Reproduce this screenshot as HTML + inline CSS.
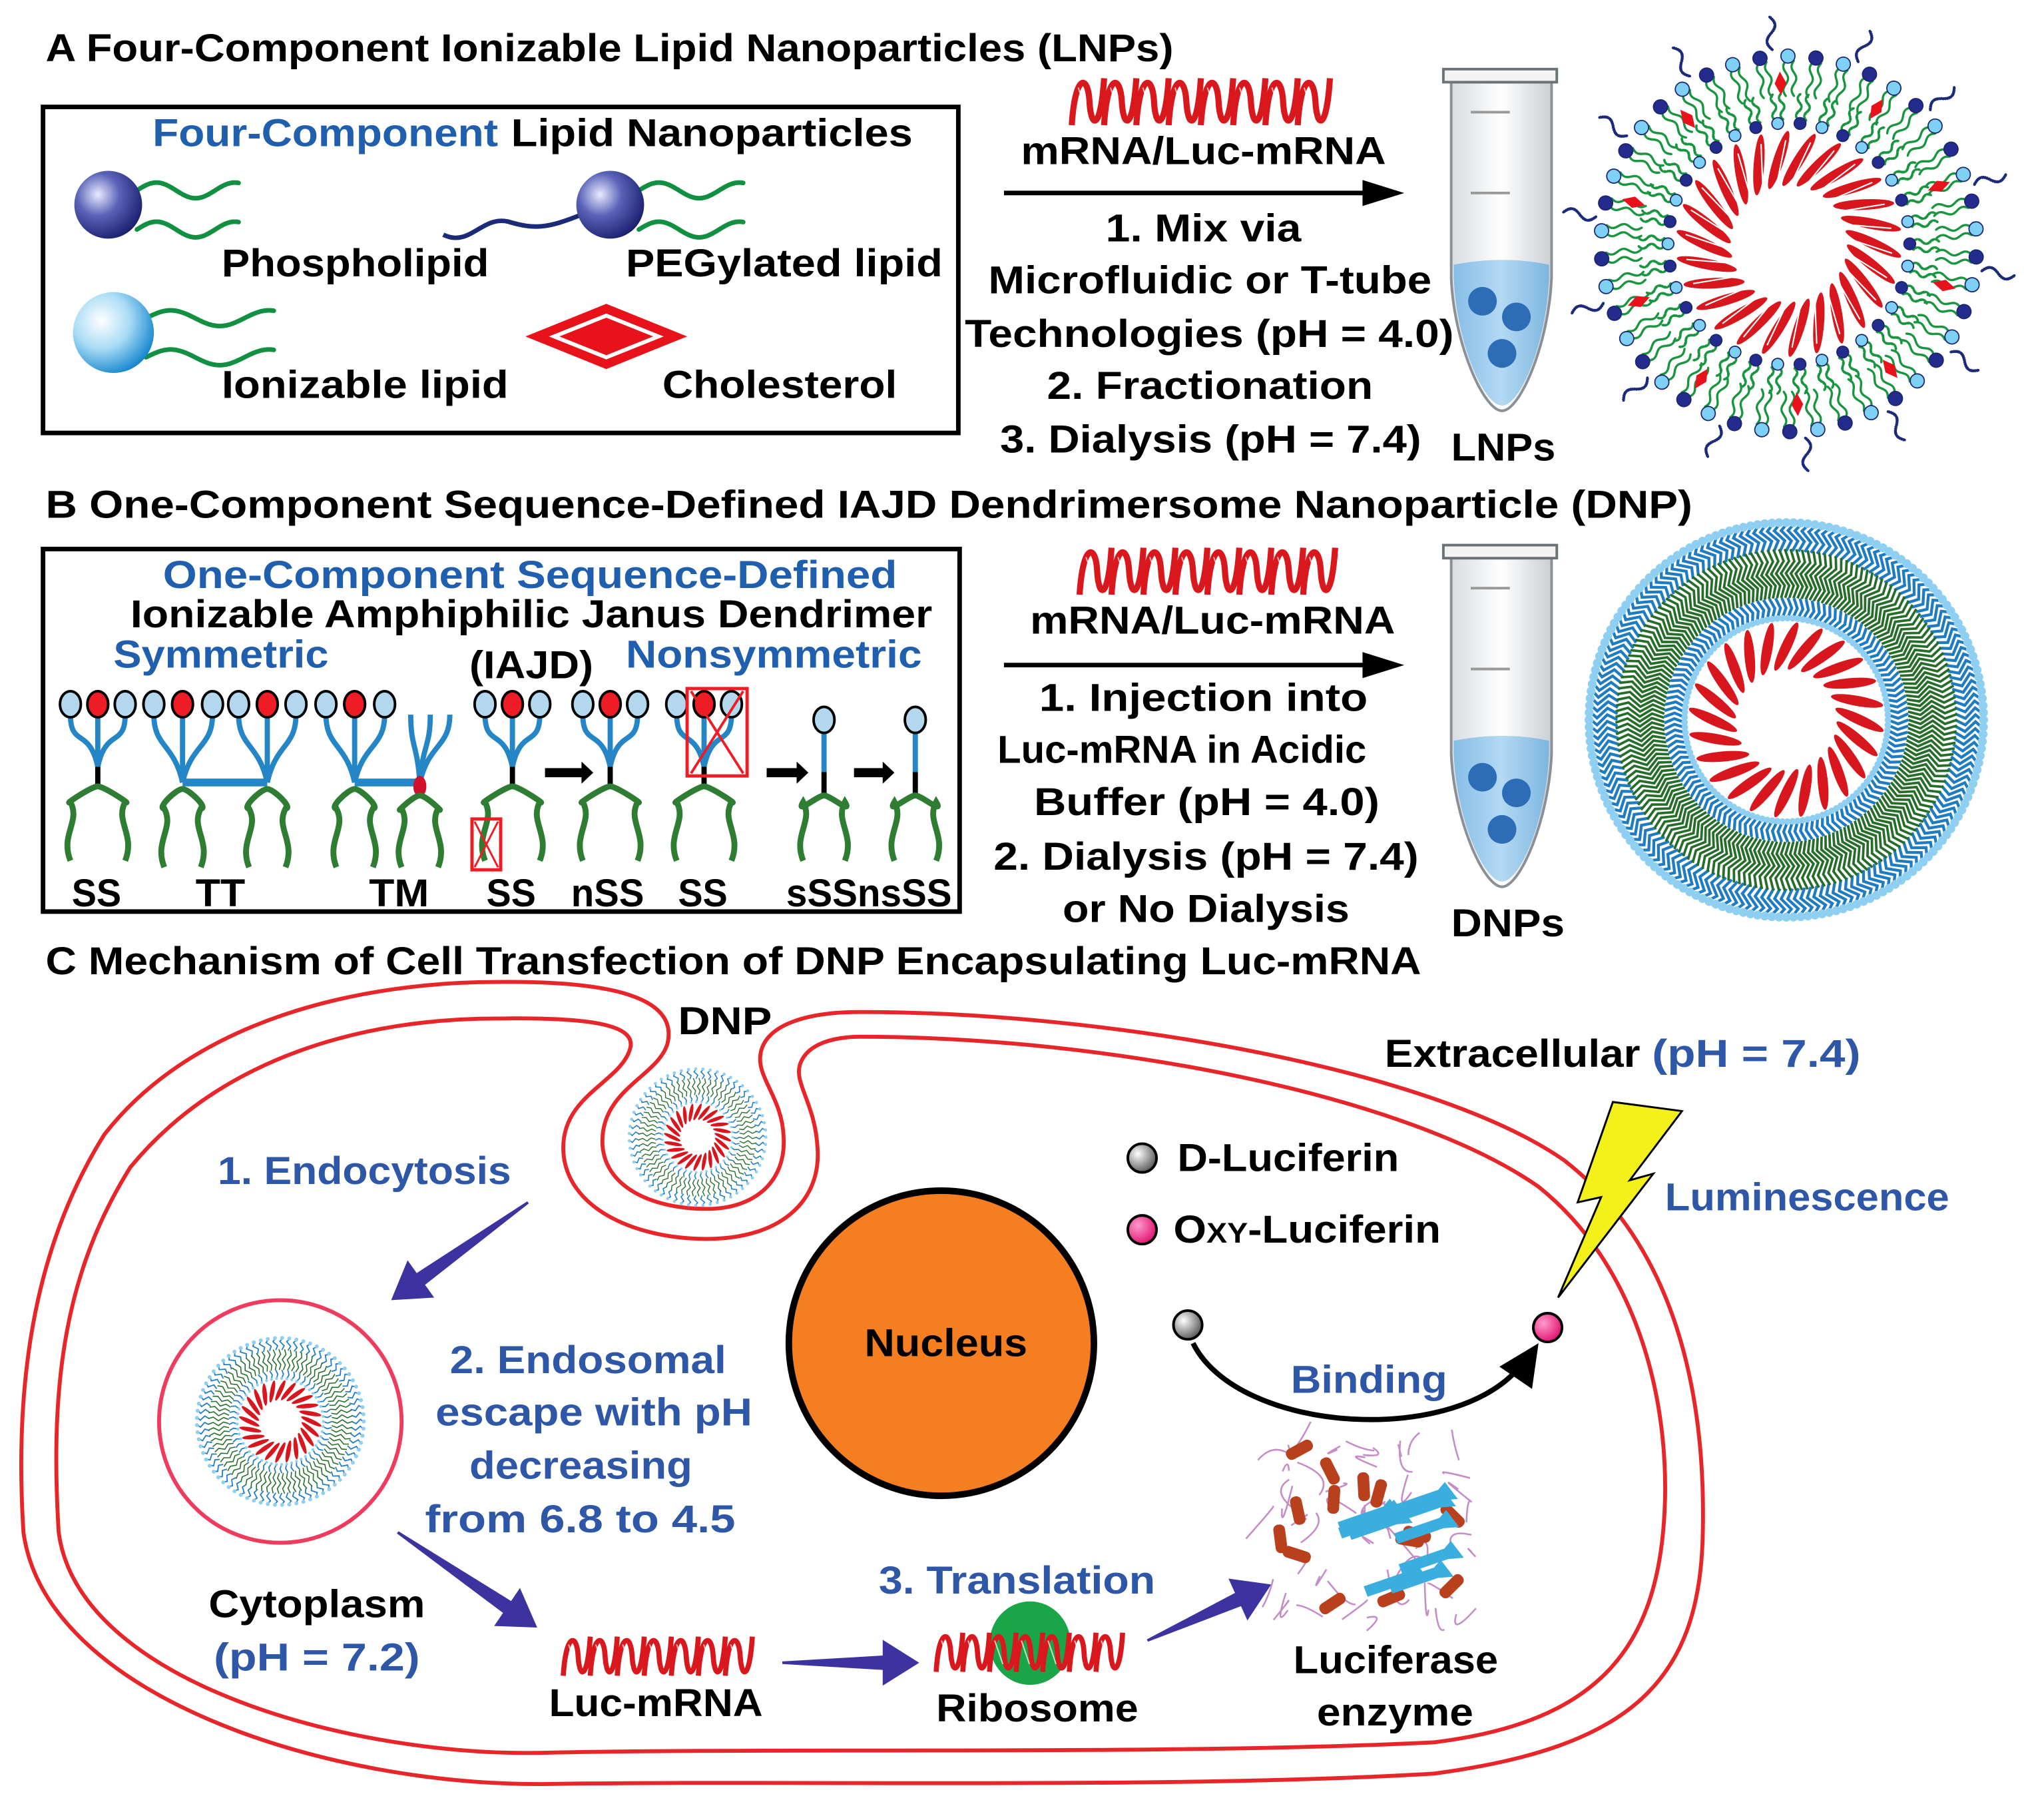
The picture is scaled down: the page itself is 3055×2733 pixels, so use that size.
<!DOCTYPE html>
<html><head><meta charset="utf-8"><style>
html,body{margin:0;padding:0;background:#fff;}
svg{display:block;}
text{font-family:"Liberation Sans",sans-serif;font-weight:bold;}
</style></head><body>
<svg id="s" xmlns="http://www.w3.org/2000/svg" width="3055" height="2733" viewBox="0 0 1560 1395.6" preserveAspectRatio="none">
<defs>
<radialGradient id="navy" cx="0.35" cy="0.35" r="0.7"><stop offset="0" stop-color="#e8ecff"/><stop offset="0.45" stop-color="#5a63b8"/><stop offset="1" stop-color="#1c1f6e"/></radialGradient>
<radialGradient id="lb" cx="0.35" cy="0.35" r="0.7"><stop offset="0" stop-color="#ffffff"/><stop offset="0.5" stop-color="#a9dcf5"/><stop offset="1" stop-color="#1687cf"/></radialGradient>
<radialGradient id="gb" cx="0.35" cy="0.35" r="0.7"><stop offset="0" stop-color="#fff"/><stop offset="1" stop-color="#555"/></radialGradient>
<radialGradient id="pk" cx="0.35" cy="0.35" r="0.7"><stop offset="0" stop-color="#ff9acb"/><stop offset="1" stop-color="#e0106f"/></radialGradient>
<linearGradient id="tube" x1="0" x2="1"><stop offset="0" stop-color="#d8dde0"/><stop offset="0.5" stop-color="#ffffff"/><stop offset="1" stop-color="#c9cfd3"/></linearGradient>
<linearGradient id="liq" x1="0" x2="1"><stop offset="0" stop-color="#86bde6"/><stop offset="0.5" stop-color="#b4d9f3"/><stop offset="1" stop-color="#7db6e0"/></linearGradient>
</defs>
<g id="g"></g>
<g id="t" font-size="30">
<text x="35" y="47" textLength="865" lengthAdjust="spacingAndGlyphs">A Four-Component Ionizable Lipid Nanoparticles (LNPs)</text>
<text x="117" y="112" textLength="265" lengthAdjust="spacingAndGlyphs" fill="#1f5fae">Four-Component</text>
<text x="392" y="112" textLength="308" lengthAdjust="spacingAndGlyphs">Lipid Nanoparticles</text>
<text x="170" y="212" textLength="205" lengthAdjust="spacingAndGlyphs">Phospholipid</text>
<text x="480" y="212" textLength="243" lengthAdjust="spacingAndGlyphs">PEGylated lipid</text>
<text x="170" y="305" textLength="220" lengthAdjust="spacingAndGlyphs">Ionizable lipid</text>
<text x="508" y="305" textLength="180" lengthAdjust="spacingAndGlyphs">Cholesterol</text>
<text x="783" y="126" textLength="280" lengthAdjust="spacingAndGlyphs">mRNA/Luc-mRNA</text>
<text x="848" y="185" textLength="150" lengthAdjust="spacingAndGlyphs">1. Mix via</text>
<text x="758" y="225" textLength="340" lengthAdjust="spacingAndGlyphs">Microfluidic or T-tube</text>
<text x="740" y="266" textLength="375" lengthAdjust="spacingAndGlyphs">Technologies (pH = 4.0)</text>
<text x="803" y="306" textLength="250" lengthAdjust="spacingAndGlyphs">2. Fractionation</text>
<text x="767" y="347" textLength="323" lengthAdjust="spacingAndGlyphs">3. Dialysis (pH = 7.4)</text>
<text x="1113" y="353" textLength="80" lengthAdjust="spacingAndGlyphs">LNPs</text>
<text x="35" y="397" textLength="1263" lengthAdjust="spacingAndGlyphs">B One-Component Sequence-Defined IAJD Dendrimersome Nanoparticle (DNP)</text>
<text x="125" y="451" textLength="563" lengthAdjust="spacingAndGlyphs" fill="#1f5fae">One-Component Sequence-Defined</text>
<text x="100" y="481" textLength="615" lengthAdjust="spacingAndGlyphs">Ionizable Amphiphilic Janus Dendrimer</text>
<text x="87" y="512" textLength="165" lengthAdjust="spacingAndGlyphs" fill="#1f5fae">Symmetric</text>
<text x="360" y="520" textLength="95" lengthAdjust="spacingAndGlyphs" font-weight="normal">(IAJD)</text>
<text x="480" y="512" textLength="227" lengthAdjust="spacingAndGlyphs" fill="#1f5fae">Nonsymmetric</text>
<text x="55" y="695" textLength="38" lengthAdjust="spacingAndGlyphs">SS</text>
<text x="150" y="695" textLength="38" lengthAdjust="spacingAndGlyphs">TT</text>
<text x="283" y="695" textLength="46" lengthAdjust="spacingAndGlyphs">TM</text>
<text x="373" y="695" textLength="38" lengthAdjust="spacingAndGlyphs">SS</text>
<text x="438" y="695" textLength="56" lengthAdjust="spacingAndGlyphs">nSS</text>
<text x="520" y="695" textLength="38" lengthAdjust="spacingAndGlyphs">SS</text>
<text x="603" y="695" textLength="127" lengthAdjust="spacingAndGlyphs">sSSnsSS</text>
<text x="790" y="486" textLength="280" lengthAdjust="spacingAndGlyphs">mRNA/Luc-mRNA</text>
<text x="797" y="545" textLength="252" lengthAdjust="spacingAndGlyphs">1. Injection into</text>
<text x="765" y="585" textLength="283" lengthAdjust="spacingAndGlyphs">Luc-mRNA in Acidic</text>
<text x="793" y="625" textLength="265" lengthAdjust="spacingAndGlyphs">Buffer (pH = 4.0)</text>
<text x="762" y="667" textLength="326" lengthAdjust="spacingAndGlyphs">2. Dialysis (pH = 7.4)</text>
<text x="815" y="707" textLength="220" lengthAdjust="spacingAndGlyphs">or No Dialysis</text>
<text x="1113" y="718" textLength="87" lengthAdjust="spacingAndGlyphs">DNPs</text>
<text x="35" y="747" textLength="1055" lengthAdjust="spacingAndGlyphs">C Mechanism of Cell Transfection of DNP Encapsulating Luc-mRNA</text>
<text x="520" y="793" textLength="72" lengthAdjust="spacingAndGlyphs">DNP</text>
<text x="1062" y="818" textLength="196" lengthAdjust="spacingAndGlyphs">Extracellular</text>
<text x="1267" y="818" textLength="160" lengthAdjust="spacingAndGlyphs" fill="#2f57a8">(pH = 7.4)</text>
<text x="167" y="908" textLength="225" lengthAdjust="spacingAndGlyphs" fill="#2f57a8">1. Endocytosis</text>
<text x="903" y="898" textLength="170" lengthAdjust="spacingAndGlyphs">D-Luciferin</text>
<text x="900" y="953" textLength="205" lengthAdjust="spacingAndGlyphs">O<tspan font-size="22">XY</tspan>-Luciferin</text>
<text x="1277" y="928" textLength="218" lengthAdjust="spacingAndGlyphs" fill="#2f57a8">Luminescence</text>
<text x="663" y="1040" textLength="125" lengthAdjust="spacingAndGlyphs">Nucleus</text>
<text x="990" y="1068" textLength="120" lengthAdjust="spacingAndGlyphs" fill="#2f57a8">Binding</text>
<text x="345" y="1053" textLength="212" lengthAdjust="spacingAndGlyphs" fill="#2f57a8">2. Endosomal</text>
<text x="334" y="1093" textLength="243" lengthAdjust="spacingAndGlyphs" fill="#2f57a8">escape with pH</text>
<text x="360" y="1134" textLength="171" lengthAdjust="spacingAndGlyphs" fill="#2f57a8">decreasing</text>
<text x="326" y="1175" textLength="238" lengthAdjust="spacingAndGlyphs" fill="#2f57a8">from 6.8 to 4.5</text>
<text x="160" y="1240" textLength="166" lengthAdjust="spacingAndGlyphs">Cytoplasm</text>
<text x="164" y="1281" textLength="158" lengthAdjust="spacingAndGlyphs" fill="#2f57a8">(pH = 7.2)</text>
<text x="674" y="1222" textLength="212" lengthAdjust="spacingAndGlyphs" fill="#2f57a8">3. Translation</text>
<text x="421" y="1316" textLength="164" lengthAdjust="spacingAndGlyphs">Luc-mRNA</text>
<text x="718" y="1320" textLength="155" lengthAdjust="spacingAndGlyphs">Ribosome</text>
<text x="992" y="1283" textLength="157" lengthAdjust="spacingAndGlyphs">Luciferase</text>
<text x="1010" y="1323" textLength="120" lengthAdjust="spacingAndGlyphs">enzyme</text>
</g>
</svg>
<script>
const S=[];const A=s=>S.push(s);const f=n=>n.toFixed(1);
function wave(x,y,w,h,n,col,sw,ph){ph=ph||0;let d='';for(let i=0;i<=300;i++){let t=i/300;let px=x+t*w;let py=y+h/2-h/2*Math.sin(t*n*2*Math.PI+ph);d+=(i?'L':'M')+f(px)+','+f(py);}return `<path d="${d}" fill="none" stroke="${col}" stroke-width="${sw}" stroke-linecap="round"/>`;}
function mrna(x,y,w,h,n){let s='';for(let i=0;i<n;i++){let x0=x+i*w/n,ww=w/n;s+=`<path d="M${f(x0)},${f(y+h)} C${f(x0+ww*0.1)},${f(y-h*0.1)} ${f(x0+ww*0.5)},${f(y-h*0.1)} ${f(x0+ww*0.55)},${f(y+h*0.5)} S${f(x0+ww*0.9)},${f(y+h*1.1)} ${f(x0+ww)},${f(y)}" fill="none" stroke="#d9181e" stroke-width="${h*0.13}"/>`;s+=`<path d="M${f(x0+ww*0.2)},${f(y+h*0.2)} L${f(x0+ww*0.5)},${f(y+h*0.8)}" stroke="#fff" stroke-width="1" opacity="0.7"/>`;}A(s);}
A('<rect x="33" y="82" width="702" height="250" fill="none" stroke="#000" stroke-width="3.5"/>');
A(wave(105,140,78,12,1.3,'#109040',3.5)+wave(105,170,78,12,1.3,'#109040',3.5));
A('<circle cx="83" cy="157" r="26" fill="url(#navy)"/>');
A('<path d="M340,180 C360,190 370,165 390,170 C410,176 420,175 445,165" fill="none" stroke="#1c2a7a" stroke-width="3.5"/>');
A(wave(490,140,80,12,1.3,'#109040',3.5)+wave(490,170,80,12,1.3,'#109040',3.5));
A('<circle cx="468" cy="157" r="26" fill="url(#navy)"/>');
A(wave(112,238,98,12,1.3,'#109040',3.5)+wave(112,268,98,12,1.3,'#109040',3.5));
A('<circle cx="87" cy="255" r="31" fill="url(#lb)"/>');
A('<polygon points="403,258 465,233 527,258 465,283" fill="#e8131a"/><polygon points="425,258 465,242 505,258 465,274" fill="none" stroke="#fff" stroke-width="3"/>');
A('<line x1="770" y1="148" x2="1050" y2="148" stroke="#000" stroke-width="3.5"/><polygon points="1045,138 1077,148 1045,158" fill="#000"/>');
A('<line x1="770" y1="510" x2="1050" y2="510" stroke="#000" stroke-width="3.5"/><polygon points="1045,500 1077,510 1045,520" fill="#000"/>');
mrna(822,60,198,36,8);mrna(828,420,196,36,8);
function tube(y){A(`<path d="M1113,${y+10} L1113,${y+160} C1115,${y+210} 1138,${y+262} 1152,${y+262} C1166,${y+262} 1188,${y+210} 1190,${y+160} L1190,${y+10} Z" fill="url(#tube)" stroke="#8a9096" stroke-width="2"/>`);
A(`<path d="M1115,${y+150} C1140,${y+145} 1165,${y+145} 1188,${y+150} L1188,${y+160} C1186,${y+210} 1166,${y+258} 1152,${y+258} C1138,${y+258} 1117,${y+210} 1115,${y+160} Z" fill="url(#liq)"/>`);
A(`<rect x="1107" y="${y}" width="87" height="10" fill="#f4f4f4" stroke="#6d7277" stroke-width="2"/>`);
A(`<line x1="1128" y1="${y+33}" x2="1158" y2="${y+33}" stroke="#999" stroke-width="2"/><line x1="1128" y1="${y+95}" x2="1158" y2="${y+95}" stroke="#999" stroke-width="2"/>`);
A(`<circle cx="1137" cy="${y+178}" r="11" fill="#2d6db5"/><circle cx="1163" cy="${y+190}" r="11" fill="#2d6db5"/><circle cx="1152" cy="${y+218}" r="11" fill="#2d6db5"/>`);}
tube(53);tube(418);
(function(){const cx=1372,cy=187;let s=`<g transform="translate(${cx},${cy}) scale(0.9)">`;
for(let i=0;i<26;i++){let a=i*360/26;s+=`<g transform="rotate(${a})"><ellipse cx="72" cy="0" rx="26" ry="4.5" fill="#d7161d" transform="rotate(25 72 0)"/><line x1="55" y1="-3" x2="88" y2="8" stroke="#fff" stroke-width="1.2"/></g>`;}
for(let i=0;i<34;i++){let a=i*360/34;s+=`<g transform="rotate(${a})">${wave(106,-4,22,4,1.5,'#18963f',1.8)}${wave(106,3,22,4,1.5,'#18963f',1.8)}<circle cx="103" cy="0" r="5" fill="${i%2?'#7fd0f5':'#232c8c'}" stroke="#1b2570" stroke-width="1"/></g>`;}
for(let i=0;i<42;i++){let a=i*360/42+4;s+=`<g transform="rotate(${a})">${wave(126,-4,30,4,1.5,'#18963f',1.8)}${wave(126,3,30,4,1.5,'#18963f',1.8)}<circle cx="160" cy="0" r="6" fill="${i%2?'#7fd0f5':'#232c8c'}" stroke="#1b2570" stroke-width="1"/></g>`;}
for(let i=0;i<10;i++){let a=i*36+15;s+=`<g transform="rotate(${a})"><polygon points="127,0 137,-5 147,0 137,5" fill="#e8131a"/></g>`;}
for(let i=0;i<14;i++){let a=i*360/14+8;s+=`<g transform="rotate(${a})">${wave(166,-4,28,8,1,'#1c2a7a',2.2)}</g>`;}
s+='</g>';A(s);})();
function dnp(cx,cy,R){let s=`<g transform="translate(${cx},${cy})">`;
let n1=Math.round(R*1.1);
for(let i=0;i<n1;i++){let a=i*360/n1;s+=`<g transform="rotate(${a})"><path d="M${f(R*0.83)},0 L${f(R*0.88)},${f(R*0.025)} L${f(R*0.93)},${f(-R*0.025)} L${f(R*0.96)},0" fill="none" stroke="#1f7cc2" stroke-width="${f(Math.max(R*0.014,0.8))}"/><circle cx="${f(R*0.97)}" cy="0" r="${f(R*0.022)}" fill="#8fd0f2"/></g>`;}
let n2=Math.round(R*1.2);
for(let i=0;i<n2;i++){let a=i*360/n2;s+=`<g transform="rotate(${a})"><path d="M${f(R*0.6)},0 L${f(R*0.66)},${f(R*0.02)} L${f(R*0.72)},${f(-R*0.02)} L${f(R*0.78)},${f(R*0.02)} L${f(R*0.84)},0" fill="none" stroke="#256d28" stroke-width="${f(Math.max(R*0.012,0.7))}"/></g>`;}
let n3=Math.round(R*0.8);
for(let i=0;i<n3;i++){let a=i*360/n3;s+=`<g transform="rotate(${a})"><path d="M${f(R*0.5)},0 L${f(R*0.55)},${f(R*0.02)} L${f(R*0.6)},0" fill="none" stroke="#1f7cc2" stroke-width="${f(Math.max(R*0.014,0.8))}"/><circle cx="${f(R*0.5)}" cy="0" r="${f(R*0.016)}" fill="#8fd0f2"/></g>`;}
for(let i=0;i<24;i++){let a=i*15;s+=`<g transform="rotate(${a})"><ellipse cx="${f(R*0.36)}" cy="0" rx="${f(R*0.13)}" ry="${f(R*0.025)}" fill="#d7161d" transform="rotate(25 ${f(R*0.36)} 0)"/></g>`;}
s+='</g>';A(s);}
dnp(1370,552,156);
A('<path d="M381,753 C470,752 520,765 512,800 C505,825 462,835 462,875 C462,910 500,927 542,927 C580,927 603,905 601,872 C600,840 578,825 584,805 C590,785 620,776 660,776 C850,776 1100,820 1200,890 C1290,960 1308,1080 1306,1175 C1304,1290 1250,1340 1100,1360 C900,1372 600,1365 420,1368 C250,1370 35,1300 18,1175 C10,1050 30,950 80,870 C150,780 280,753 381,753 Z" fill="none" stroke="#e8262a" stroke-width="3"/>');
A('<path d="M381,781 C450,780 490,785 483,805 C475,830 432,840 432,880 C432,925 485,950 542,950 C600,950 630,920 627,880 C625,845 608,830 614,815 C620,800 640,795 660,795 C850,795 1080,840 1180,910 C1255,970 1279,1070 1277,1150 C1274,1260 1230,1320 1100,1336 C900,1346 600,1340 420,1344 C270,1348 60,1290 45,1175 C38,1060 50,975 100,895 C170,810 280,781 381,781 Z" fill="none" stroke="#e8262a" stroke-width="3"/>');
dnp(535,872,54);
A('<circle cx="215" cy="1090" r="93" fill="none" stroke="#ef3b5e" stroke-width="3"/>');
dnp(215,1090,66);
function barrow(x1,y1,x2,y2,w){let dx=x2-x1,dy=y2-y1,L=Math.hypot(dx,dy),ux=dx/L,uy=dy/L,px=-uy,py=ux;let hl=28,hw=w*1.6;let bx=x2-ux*hl,by=y2-uy*hl;
let p=[[x1+px*1,y1+py*1],[bx+px*w/2,by+py*w/2],[bx+px*hw,by+py*hw],[x2,y2],[bx-px*hw,by-py*hw],[bx-px*w/2,by-py*w/2],[x1-px*1,y1-py*1]];
A(`<polygon points="${p.map(q=>f(q[0])+','+f(q[1])).join(' ')}" fill="#3c32a0"/>`);}
barrow(405,922,300,997,11);barrow(305,1175,412,1248,11);barrow(600,1275,705,1275,11);barrow(880,1258,975,1215,11);
mrna(432,1255,145,30,7);
A('<ellipse cx="790" cy="1260" rx="31" ry="32" fill="#1aa548"/>');
mrna(718,1252,143,30,7);
A('<circle cx="876" cy="888" r="11" fill="url(#gb)" stroke="#000" stroke-width="2"/><circle cx="876" cy="943" r="11" fill="url(#pk)" stroke="#000" stroke-width="2"/>');
A('<path d="M915,1030 C950,1100 1120,1110 1168,1045" fill="none" stroke="#000" stroke-width="4"/><polygon points="1180,1030 1175,1065 1150,1048" fill="#000"/>');
A('<circle cx="911" cy="1016" r="11" fill="url(#gb)" stroke="#000" stroke-width="2"/><circle cx="1187" cy="1018" r="11" fill="url(#pk)" stroke="#000" stroke-width="2"/>');
A('<polygon points="1237,845 1290,852 1250,905 1268,900 1195,995 1228,918 1210,922" fill="#f4f01a" stroke="#000" stroke-width="1.5"/>');
A('<circle cx="722" cy="1030" r="117" fill="#f57f20" stroke="#000" stroke-width="5"/>');
(function(){let s='';let seed=7;const r=()=>{seed=(seed*9301+49297)%233280;return seed/233280;};
for(let i=0;i<50;i++){let x=975+r()*160,y=1105+r()*140;s+=`<path d="M${f(x)},${f(y)} q${f(r()*40-20)},${f(r()*40-20)} ${f(r()*50-25)},${f(r()*50-25)}" fill="none" stroke="#c58cc8" stroke-width="1.3"/>`;}
for(let i=0;i<14;i++){let x=985+r()*140,y=1110+r()*120;s+=`<rect x="${f(x)}" y="${f(y)}" width="22" height="9" rx="4" fill="#b8401c" transform="rotate(${f(r()*180)} ${f(x)} ${f(y)})"/>`;}
for(let i=0;i<10;i++){let x=1025+r()*70,y=1150+r()*70;s+=`<polygon points="${f(x)},${f(y)} ${f(x+35)},${f(y-12)} ${f(x+40)},${f(y-18)} ${f(x+50)},${f(y-5)} ${f(x+38)},${f(y-4)} ${f(x+3)},${f(y+8)}" fill="#3aaede"/>`;}
A(s);})();
A('<rect x="33" y="421" width="703" height="278" fill="none" stroke="#000" stroke-width="3.5"/>');
function head(x,y,c){A(`<ellipse cx="${x}" cy="${y}" rx="8" ry="10" fill="${c}" stroke="#000" stroke-width="2"/>`);}
const LB='#b3d8ee',RD='#ee1c24',BL='#2486c6',GR='#2e7d32';
function branch(xs,x0,ytop,yj){xs.forEach(x=>A(`<path d="M${x},${ytop} C${x},${ytop+25} ${x0+(x-x0)*0.3},${yj-30} ${x0},${yj}" fill="none" stroke="${BL}" stroke-width="4"/>`));}
function tails(x0,y0,sp,bottom){A(`<path d="M${x0-sp},${bottom} C${x0-sp-8},${bottom-20} ${x0-sp+8},${bottom-30} ${x0-sp},${bottom-45} C${x0-sp-6},${y0+15} ${x0-5},${y0} ${x0},${y0} C${x0+5},${y0} ${x0+sp+6},${y0+15} ${x0+sp},${bottom-45} C${x0+sp-8},${bottom-30} ${x0+sp+8},${bottom-20} ${x0+sp},${bottom}" fill="none" stroke="${GR}" stroke-width="4.5"/>`);}
function ss(x){branch([x-21,x,x+21],x,548,588);A(`<line x1="${x}" y1="588" x2="${x}" y2="603" stroke="#000" stroke-width="4"/>`);tails(x,603,21,660);head(x-21,540,LB);head(x,540,RD);head(x+21,540,LB);}
ss(75);ss(393);ss(468);ss(540);
branch([118,140,163],140,548,600);branch([183,205,227],205,548,600);
A(`<line x1="140" y1="600" x2="205" y2="600" stroke="${BL}" stroke-width="6"/>`);
tails(140,605,14,665);tails(205,605,14,665);
[[118,LB],[140,RD],[163,LB],[183,LB],[205,RD],[227,LB]].forEach(h=>head(h[0],540,h[1]));
branch([250,272,295],272,548,600);branch([315,330,345],322,548,600);
A(`<line x1="272" y1="600" x2="320" y2="600" stroke="${BL}" stroke-width="6"/><ellipse cx="322" cy="603" rx="5" ry="8" fill="#d0102a"/>`);
tails(272,605,14,665);tails(322,610,14,665);
head(250,540,LB);head(272,540,RD);head(295,540,LB);
[632,702].forEach(x=>{A(`<line x1="${x}" y1="560" x2="${x}" y2="592" stroke="${BL}" stroke-width="4"/><line x1="${x}" y1="592" x2="${x}" y2="610" stroke="#000" stroke-width="4"/>`);tails(x,610,16,660);head(x,552,LB);});
[[418,455],[588,620],[655,686]].forEach(a=>A(`<rect x="${a[0]}" y="589" width="${a[1]-a[0]-8}" height="7" fill="#000"/><polygon points="${a[1]-9},584 ${a[1]},592.5 ${a[1]-9},601" fill="#000"/>`));
A('<rect x="527" y="528" width="46" height="67" fill="none" stroke="#ee1c24" stroke-width="2.5"/><line x1="530" y1="593" x2="570" y2="530" stroke="#ee1c24" stroke-width="2"/><line x1="530" y1="530" x2="570" y2="593" stroke="#ee1c24" stroke-width="2"/>');
A('<rect x="362" y="628" width="22" height="39" fill="none" stroke="#ee1c24" stroke-width="2.5"/><line x1="364" y1="665" x2="382" y2="630" stroke="#ee1c24" stroke-width="1.5"/><line x1="364" y1="630" x2="382" y2="665" stroke="#ee1c24" stroke-width="1.5"/>');
document.getElementById('g').innerHTML=S.join('');
</script>
</body></html>
